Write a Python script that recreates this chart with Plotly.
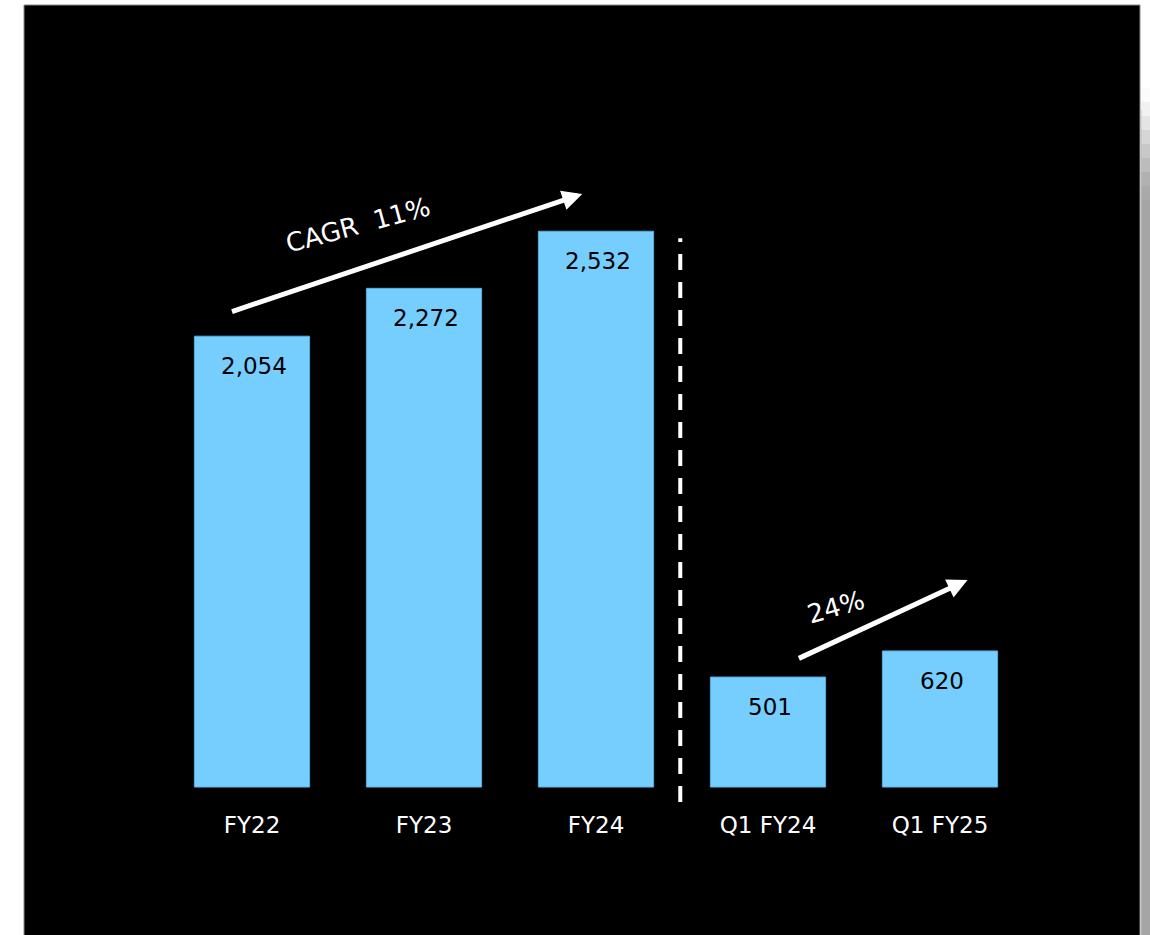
import plotly.graph_objects as go

# Revenue by period
categories = ["FY22", "FY23", "FY24", "Q1 FY24", "Q1 FY25"]
values = [2054, 2272, 2532, 501, 620]
value_labels = ["2,054", "2,272", "2,532", "501", "620"]
cagr_label = "CAGR  11%"
growth_label = "24%"

W, H = 1150, 935
ML, MR, MT, MB = 166, 124, 100, 126
PW, PH = W - ML - MR, H - MT - MB
Y_MIN, Y_MAX = -100, 3130

FONT = "DejaVu Sans"
BAR_COLOR = "#75CEFE"


def px_x(p):
    return (p - ML) / PW


def px_y(p):
    return (H - MB - p) / PH


fig = go.Figure()
fig.add_trace(go.Bar(
    x=list(range(len(categories))),
    y=values,
    width=0.67,
    marker=dict(color=BAR_COLOR, line=dict(color="#5AAEE0", width=1)),
    hoverinfo="skip",
))

shapes = [
    # black slide panel with thin grey border
    dict(type="rect", xref="paper", yref="paper", layer="below",
         x0=px_x(24), x1=px_x(1140), y0=px_y(940), y1=px_y(5),
         fillcolor="#000000", line=dict(color="#8a8a8a", width=1)),
    # divider between annual and quarterly figures
    dict(type="line", xref="x", yref="y", x0=2.49, x1=2.49, y0=-68, y1=2500,
         line=dict(color="white", width=4, dash="16px,12px")),
]

# soft grey shadow along the right edge
shade = ["#fbfbfb", "#f1f1f1", "#e4e4e4", "#d6d6d6", "#c8c8c8", "#bcbcbc", "#b1b1b1", "#a9a9a9"]
top = 88
for c in shade:
    shapes.append(dict(type="rect", xref="paper", yref="paper", layer="below",
                       x0=px_x(1141), x1=px_x(1150), y0=px_y(top + 14), y1=px_y(top),
                       fillcolor=c, line=dict(width=0)))
    top += 14
shapes.append(dict(type="rect", xref="paper", yref="paper", layer="below",
                   x0=px_x(1141), x1=px_x(1150), y0=px_y(940), y1=px_y(top),
                   fillcolor="#a5a5a5", line=dict(width=0)))
shapes.append(dict(type="line", xref="paper", yref="paper", layer="below",
                   x0=px_x(1141), x1=px_x(1141), y0=px_y(940), y1=px_y(110),
                   line=dict(color="#c4c4c4", width=1)))

annotations = []
for i, (v, lab) in enumerate(zip(values, value_labels)):
    annotations.append(dict(x=i, y=v, xref="x", yref="y", text=lab, showarrow=False,
                            xanchor="center", yanchor="middle", yshift=-30, xshift=2,
                            font=dict(family=FONT, size=23, color="black")))

# growth arrows
annotations.append(dict(x=1.92, y=2702, ax=-0.125, ay=2164, xref="x", yref="y",
                        axref="x", ayref="y", text="", showarrow=True,
                        arrowhead=2, arrowsize=0.8, arrowwidth=5, arrowcolor="white",
                        standoff=0, startstandoff=0))
annotations.append(dict(x=4.16, y=943, ax=3.171, ay=583, xref="x", yref="y",
                        axref="x", ayref="y", text="", showarrow=True,
                        arrowhead=2, arrowsize=0.8, arrowwidth=5, arrowcolor="white",
                        standoff=0, startstandoff=0))

annotations.append(dict(x=px_x(358), y=px_y(225), xref="paper", yref="paper",
                        xanchor="center", yanchor="middle",
                        text=cagr_label, showarrow=False, textangle=-15,
                        font=dict(family=FONT, size=26, color="white")))
annotations.append(dict(x=px_x(836), y=px_y(607), xref="paper", yref="paper",
                        xanchor="center", yanchor="middle",
                        text=growth_label, showarrow=False, textangle=-16,
                        font=dict(family=FONT, size=26, color="white")))

fig.update_layout(
    width=W, height=H,
    margin=dict(l=ML, r=MR, t=MT, b=MB, pad=0),
    paper_bgcolor="white",
    plot_bgcolor="rgba(0,0,0,0)",
    showlegend=False,
    shapes=shapes,
    annotations=annotations,
    xaxis=dict(range=[-0.5, 4.5], tickmode="array",
               tickvals=list(range(len(categories))), ticktext=categories,
               showgrid=False, zeroline=False, showline=False, ticks="",
               tickfont=dict(family=FONT, size=23, color="white"),
               fixedrange=True),
    yaxis=dict(range=[Y_MIN, Y_MAX], visible=False, fixedrange=True),
)

fig.write_html("out.html", config={"displayModeBar": False})
